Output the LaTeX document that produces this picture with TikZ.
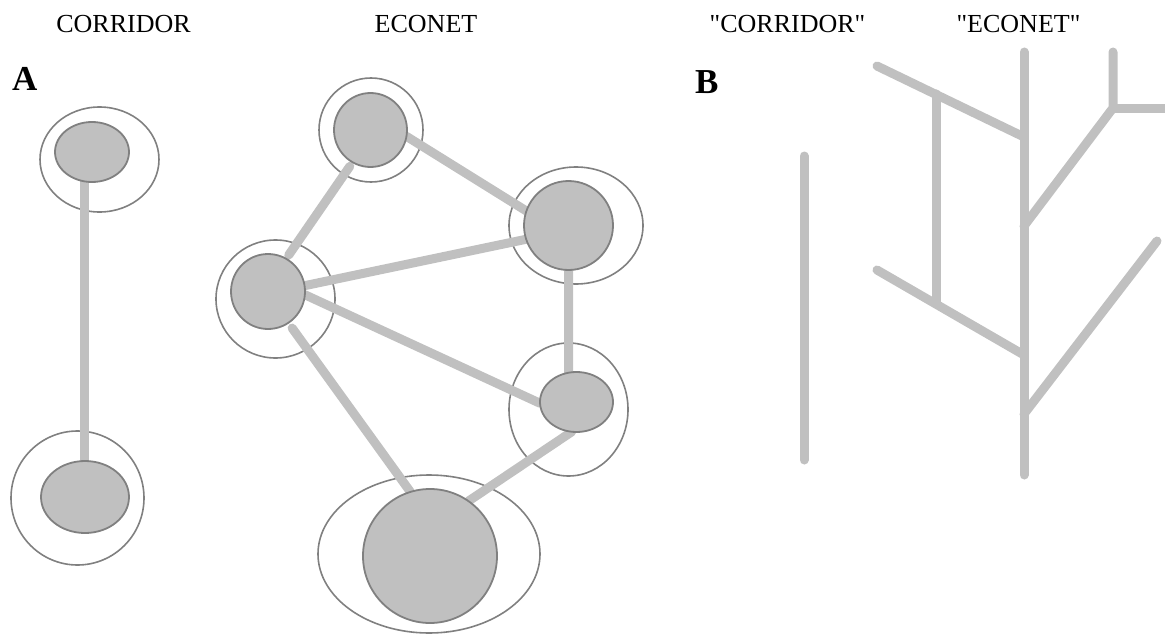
\documentclass[tikz,border=0pt]{standalone}
\usepackage{fontspec}
\setmainfont{Liberation Serif}[Ligatures=TeXOff]
\usetikzlibrary{shapes.geometric,backgrounds}
\definecolor{linkgray}{HTML}{C0C0C0}
\definecolor{edgegray}{HTML}{808080}
\tikzset{
  core/.style={ellipse, draw=edgegray, line width=1.8pt, fill=linkgray, inner sep=0pt, outer sep=0pt},
  ring/.style={ellipse, draw=edgegray, line width=1.6pt, inner sep=0pt, outer sep=0pt},
  link/.style={draw=linkgray, line width=9pt, line cap=round},
  branch/.style={draw=linkgray, line width=9pt, line cap=round, line join=round},
  title/.style={anchor=base, inner sep=0pt, font=\fontsize{26}{30}\selectfont},
  panel/.style={anchor=base west, inner sep=0pt, font=\fontsize{35}{40}\selectfont\bfseries}
}
\begin{document}
\begin{tikzpicture}[x=1pt,y=-1pt]
\useasboundingbox (0,0) rectangle (1165,634);

% titles
\node[title] (t1) at (123.5,33) {CORRIDOR};
\node[title] (t2) at (426,33) {ECONET};
\node[title] (t3) at (787.5,33) {"CORRIDOR"};
\node[title] (t4) at (1018.5,33) {"ECONET"};
\node[panel] (pa) at (12,90) {A};
\node[panel] (pb) at (695,94) {B};

% corridor cores
\node[core, minimum width=74pt, minimum height=60pt] (ct) at (92,152) {};
\node[core, minimum width=88pt, minimum height=72pt] (cb) at (85,497) {};
% econet cores
\node[core, minimum width=73pt, minimum height=74pt] (n1) at (370.5,130) {};
\node[core, minimum width=89pt, minimum height=89pt] (n2) at (568.5,225.5) {};
\node[core, minimum width=74pt, minimum height=75pt] (n3) at (268,291.5) {};
\node[core, minimum width=73pt, minimum height=60pt] (n4) at (576.5,402) {};
\node[core, minimum width=134pt, minimum height=134pt] (n5) at (430,556) {};

\begin{scope}[on background layer]
  % rings
  \node[ring, minimum width=119pt, minimum height=105pt] (ctr) at (99.5,159.5) {};
  \node[ring, minimum width=133pt, minimum height=134pt] (cbr) at (77.5,498) {};
  \node[ring, minimum width=104pt, minimum height=104pt] (n1r) at (371,130) {};
  \node[ring, minimum width=134pt, minimum height=117pt] (n2r) at (576,225.5) {};
  \node[ring, minimum width=119pt, minimum height=118pt] (n3r) at (275.5,299) {};
  \node[ring, minimum width=119pt, minimum height=133pt] (n4r) at (568.5,409.5) {};
  \node[ring, minimum width=222pt, minimum height=158pt] (n5r) at (429,554) {};
  % links
  \draw[link] (ct.256) -- (ct.256 |- cb.north);
  \draw[link, shorten <=5pt, shorten >=4.5pt] (n1.-119) -- (n3.61);
  \draw[link] (n1.-10) -- (n2.161);
  \draw[link] (n3.9) -- (n2.198);
  \draw[link] (n3.-5) -- (n4.182);
  \draw[link, shorten <=6.5pt] (n3.-57) -- (n5.107);
  \draw[link] (n2.-90) -- (n4.105.5);
  \draw[link] (n4.261) -- (n5.55);
\end{scope}

% panel B
\coordinate (bc1) at (804,156);
\coordinate (bc2) at (804,460);
\coordinate (tr1) at (1024,52);
\coordinate (tr2) at (1024,475);
\coordinate (a1) at (877,66);
\coordinate (a1e) at (1024,137);
\coordinate (a2) at (877,270);
\coordinate (a2e) at (1024,355);
\coordinate (v1) at (936,94);
\coordinate (v2) at (936,304);
\coordinate (r1) at (1024,226);
\coordinate (r2) at (1113,108);
\coordinate (r3) at (1113,52);
\coordinate (r4) at (1170,108);
\coordinate (d1) at (1157,241);
\coordinate (d2) at (1024,414);

\draw[branch] (bc1) -- (bc2);
\draw[branch] (tr1) -- (tr2);
\draw[branch] (a1) -- (a1e);
\draw[branch] (a2) -- (a2e);
\draw[branch] (v1) -- (v2);
\draw[branch] (r1) -- (r2) -- (r3);
\draw[branch] (r2) -- (r4);
\draw[branch] (d1) -- (d2);
\end{tikzpicture}
\end{document}
